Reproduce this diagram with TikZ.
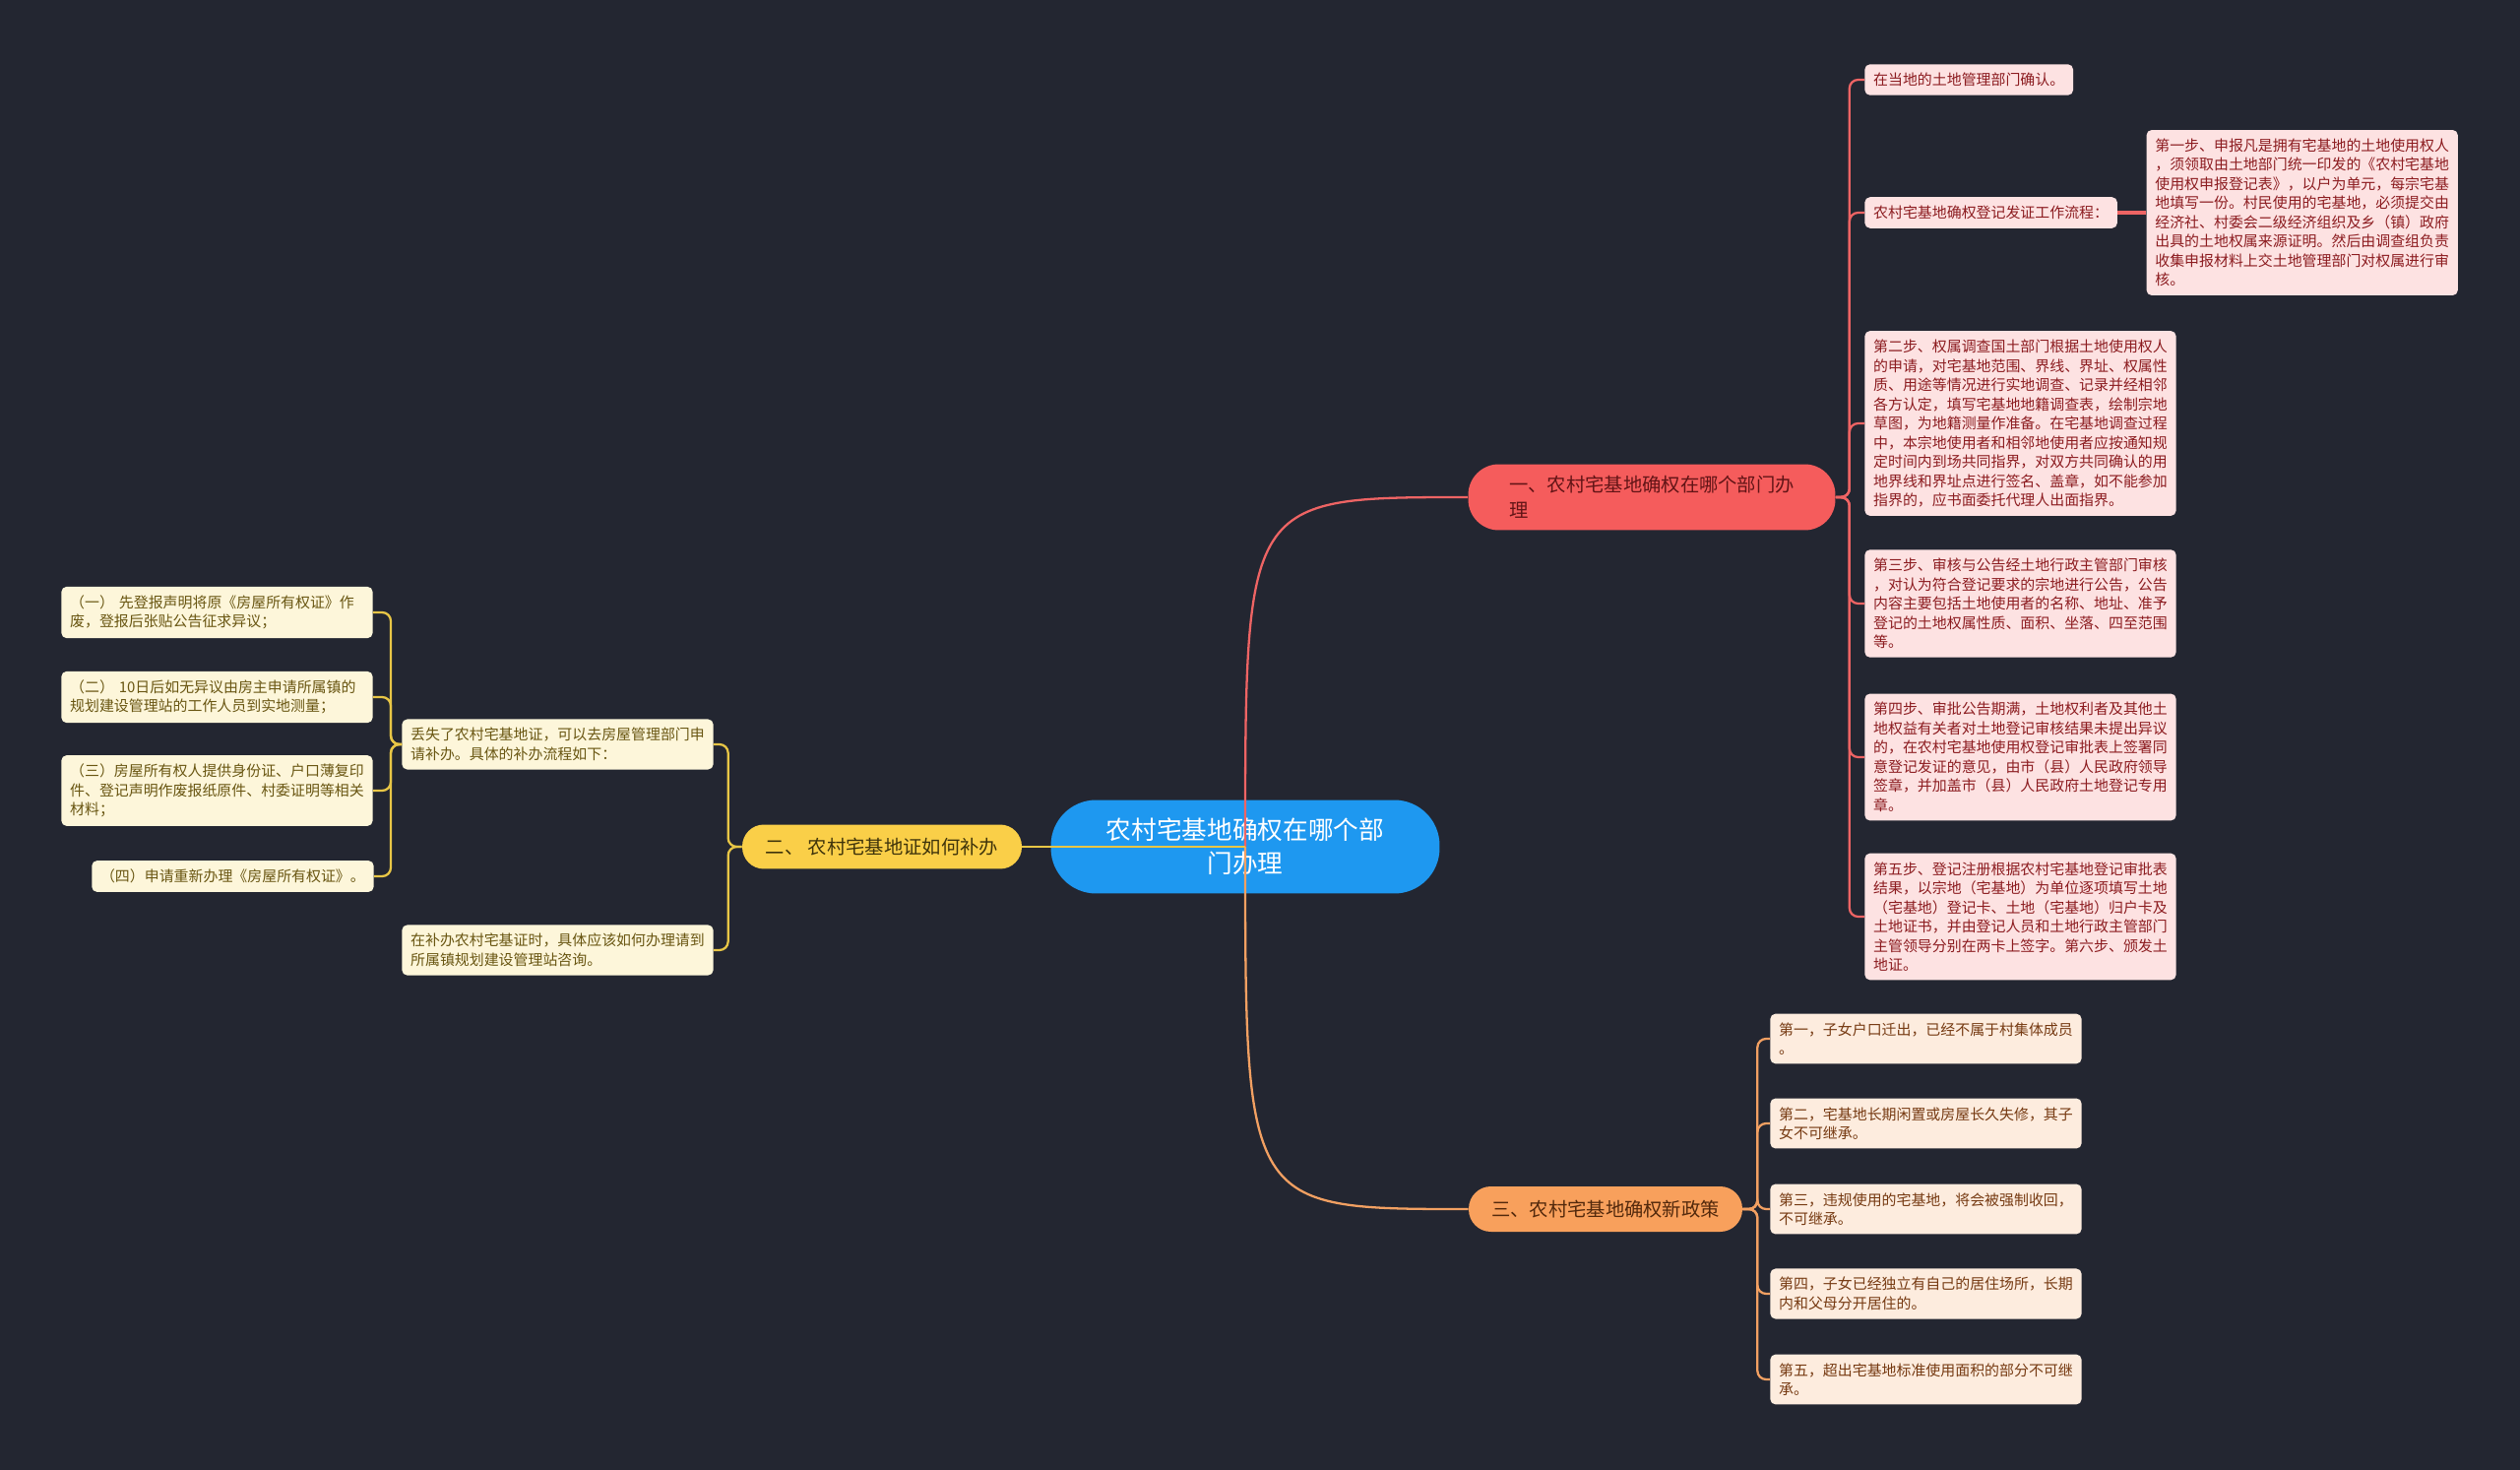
\documentclass[tikz,border=0pt]{standalone}
\usepackage{fontspec}
\setmainfont{Noto Sans CJK SC}
\usetikzlibrary{positioning}
\definecolor{bgdark}{RGB}{35, 38, 49}
\definecolor{rootblue}{RGB}{30, 152, 240}
\definecolor{redtop}{RGB}{245, 92, 92}
\definecolor{redpale}{RGB}{253, 226, 226}
\definecolor{redtxt}{RGB}{140, 28, 32}
\definecolor{redln}{RGB}{238, 100, 100}
\definecolor{yeltop}{RGB}{250, 207, 72}
\definecolor{yelpale}{RGB}{253, 246, 218}
\definecolor{yeltxt}{RGB}{105, 86, 18}
\definecolor{yelln}{RGB}{232, 198, 70}
\definecolor{oratop}{RGB}{248, 160, 92}
\definecolor{orapale}{RGB}{253, 236, 222}
\definecolor{oratxt}{RGB}{118, 58, 18}
\definecolor{oraln}{RGB}{242, 160, 98}

\begin{document}
\begin{tikzpicture}[x=0.02cm, y=-0.02cm,
    leaf/.style={rounded corners=3pt, inner xsep=5pt, inner ysep=5pt, align=left,
      font=\fontsize{8.5}{11.1}\selectfont},
    wbox/.style={text width=170pt},
    leafred/.style={leaf, fill=redpale, text=redtxt},
    leafyel/.style={leaf, fill=yelpale, text=yeltxt},
    leafora/.style={leaf, fill=orapale, text=oratxt},
    topic/.style={align=left, inner sep=0pt, font=\fontsize{11}{14.8}\selectfont},
    redline/.style={draw=redln, line width=1.3pt},
    yelline/.style={draw=yelln, line width=1.3pt},
    oraline/.style={draw=oraln, line width=1.3pt}]
  \useasboundingbox (0,0) rectangle (2560,1493);
  \fill[bgdark] (0,0) rectangle (2560,1493);

  \node[fill=rootblue, text=white, rounded corners=0.92cm, minimum width=7.9cm,
        minimum height=1.9cm, align=center, font=\fontsize{14.6}{19.4}\selectfont]
        (root) at (1265,860) {农村宅基地确权在哪个部\\门办理};

  \node[topic, fill=redtop, text=redtxt!70!black, rounded corners=0.62cm,
        minimum width=7.46cm, minimum height=1.34cm] (b1) at (1678,505)
        {一、农村宅基地确权在哪个部门办\\理};
  \node[topic, fill=yeltop, text=yeltxt!60!black, rounded corners=0.44cm,
        minimum width=5.68cm, minimum height=0.9cm] (b2) at (896,860)
        {二、 农村宅基地证如何补办};
  \node[topic, fill=oratop, text=oratxt!70!black, rounded corners=0.45cm,
        minimum width=5.56cm, minimum height=0.92cm] (b3) at (1631,1228)
        {三、农村宅基地确权新政策};

  \node[leafred, anchor=west] (l1) at (1894,81) {在当地的土地管理部门确认。};
  \node[leafred, anchor=west] (l2) at (1894,216) {农村宅基地确权登记发证工作流程：};
  \node[leafred, wbox, right=0.58cm of l2] (l2c)
        {第一步、申报凡是拥有宅基地的土地使用权人\\，须领取由土地部门统一印发的《农村宅基地\\使用权申报登记表》，以户为单元，每宗宅基\\地填写一份。村民使用的宅基地，必须提交由\\经济社、村委会二级经济组织及乡（镇）政府\\出具的土地权属来源证明。然后由调查组负责\\收集申报材料上交土地管理部门对权属进行审\\核。};
  \node[leafred, wbox, anchor=west] (l3) at (1894,430)
        {第二步、权属调查国土部门根据土地使用权人\\的申请，对宅基地范围、界线、界址、权属性\\质、用途等情况进行实地调查、记录并经相邻\\各方认定，填写宅基地地籍调查表，绘制宗地\\草图，为地籍测量作准备。在宅基地调查过程\\中，本宗地使用者和相邻地使用者应按通知规\\定时间内到场共同指界，对双方共同确认的用\\地界线和界址点进行签名、盖章，如不能参加\\指界的，应书面委托代理人出面指界。};
  \node[leafred, wbox, anchor=west] (l4) at (1894,613)
        {第三步、审核与公告经土地行政主管部门审核\\，对认为符合登记要求的宗地进行公告，公告\\内容主要包括土地使用者的名称、地址、准予\\登记的土地权属性质、面积、坐落、四至范围\\等。};
  \node[leafred, wbox, anchor=west] (l5) at (1894,769)
        {第四步、审批公告期满，土地权利者及其他土\\地权益有关者对土地登记审核结果未提出异议\\的，在农村宅基地使用权登记审批表上签署同\\意登记发证的意见，由市（县）人民政府领导\\签章，并加盖市（县）人民政府土地登记专用\\章。};
  \node[leafred, wbox, anchor=west] (l6) at (1894,931)
        {第五步、登记注册根据农村宅基地登记审批表\\结果，以宗地（宅基地）为单位逐项填写土地\\（宅基地）登记卡、土地（宅基地）归户卡及\\土地证书，并由登记人员和土地行政主管部门\\主管领导分别在两卡上签字。第六步、颁发土\\地证。};

  \node[leafyel, wbox, anchor=west] (y1) at (408,756)
        {丢失了农村宅基地证，可以去房屋管理部门申\\请补办。具体的补办流程如下：};
  \node[leafyel, wbox, anchor=west] (y2) at (408,965)
        {在补办农村宅基证时，具体应该如何办理请到\\所属镇规划建设管理站咨询。};
  \node[leafyel, wbox, anchor=west] (y1a) at (62,622)
        {（一） 先登报声明将原《房屋所有权证》作\\废，登报后张贴公告征求异议；};
  \node[leafyel, wbox, anchor=west] (y1b) at (62,708)
        {（二） 10日后如无异议由房主申请所属镇的\\规划建设管理站的工作人员到实地测量；};
  \node[leafyel, wbox, anchor=west] (y1c) at (62,803)
        {（三）房屋所有权人提供身份证、户口薄复印\\件、登记声明作废报纸原件、村委证明等相关\\材料；};
  \node[leafyel, anchor=east] (y1d) at (380,890) {（四）申请重新办理《房屋所有权证》。};

  \node[leafora, wbox, anchor=west] (o1) at (1798,1055)
        {第一，子女户口迁出，已经不属于村集体成员\\。};
  \node[leafora, wbox, anchor=west] (o2) at (1798,1141)
        {第二，宅基地长期闲置或房屋长久失修，其子\\女不可继承。};
  \node[leafora, wbox, anchor=west] (o3) at (1798,1228)
        {第三，违规使用的宅基地，将会被强制收回，\\不可继承。};
  \node[leafora, wbox, anchor=west] (o4) at (1798,1314)
        {第四，子女已经独立有自己的居住场所，长期\\内和父母分开居住的。};
  \node[leafora, wbox, anchor=west] (o5) at (1798,1401)
        {第五，超出宅基地标准使用面积的部分不可继\\承。};

  \draw[redline] (root.center) .. controls (root.center |- b1.west) .. (b1.west);
  \draw[oraline] (root.center) .. controls (root.center |- b3.west) .. (b3.west);
  \draw[yelline] (root.center) -- (b2.east);

  \foreach \n in {l1,l2,l3,l4,l5,l6}
    \draw[redline, rounded corners=5pt] (b1.east) -- ++(14,0) |- (\n.west);
  \draw[redline, line width=2pt] (l2.east) -- (l2c.west);
  \foreach \n in {o1,o2,o3,o4,o5}
    \draw[oraline, rounded corners=5pt] (b3.east) -- ++(15,0) |- (\n.west);
  \foreach \n in {y1,y2}
    \draw[yelline, rounded corners=5pt] (b2.west) -- ++(-14,0) |- (\n.east);
  \foreach \n in {y1a,y1b,y1c,y1d}
    \draw[yelline, rounded corners=5pt] (y1.west) -- ++(-11,0) |- (\n.east);
\end{tikzpicture}
\end{document}
